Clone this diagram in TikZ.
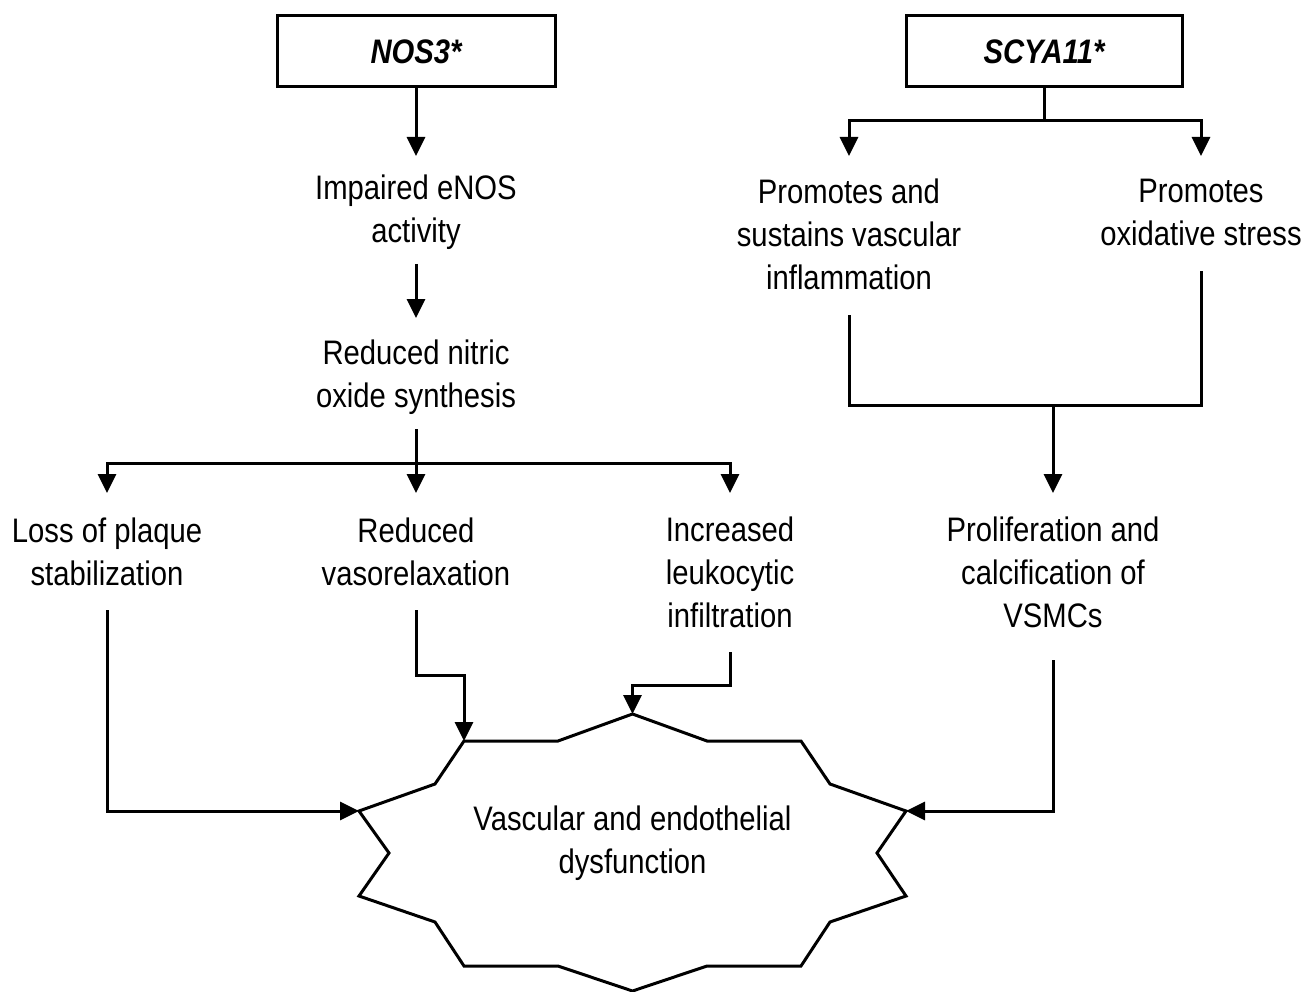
\documentclass[tikz,border=0pt]{standalone}
\usepackage{fontspec}
\setmainfont{Liberation Sans}[FakeStretch=0.86]
\usetikzlibrary{arrows.meta}
\begin{document}
\begin{tikzpicture}[x=1pt,y=-1pt,
  lbl/.style={font=\fontsize{34}{43}\selectfont, align=center, inner sep=0pt, anchor=base},
  gene/.style={draw, line width=3pt, minimum width=278pt, minimum height=71pt, inner sep=0pt,
    font=\fontsize{34}{43}\selectfont\bfseries\itshape},
  conn/.style={line width=3pt},
  arr/.style={conn, -{Triangle[length=19pt,width=18pt]}}]
\useasboundingbox (0,0) rectangle (1303,992);

% gene boxes
\node[gene] (nos3) at (416,51.5) {NOS3*};
\node[gene, minimum width=276pt] (scya) at (1044,51.5) {SCYA11*};

% text nodes (anchor = baseline of last line)
\node[lbl] (enos) at (416,243) {Impaired eNOS\\activity};
\node[lbl] (nosyn) at (416,407) {Reduced nitric\\oxide synthesis};
\node[lbl] (infl) at (849,290) {Promotes and\\sustains vascular\\inflammation};
\node[lbl] (oxid) at (1201,246) {Promotes\\oxidative stress};
\node[lbl] (loss) at (107,585) {Loss of plaque\\stabilization};
\node[lbl] (vaso) at (416,585) {Reduced\\vasorelaxation};
\node[lbl] (leuk) at (730,627) {Increased\\leukocytic\\infiltration};
\node[lbl] (prolif) at (1053,627) {Proliferation and\\calcification of\\VSMCs};
\node[lbl] (vasc) at (632.5,873) {Vascular and endothelial\\dysfunction};

% star outline
\coordinate (starTL) at (464,741);
\coordinate (starT) at (632.5,714);
\coordinate (starR) at (906,811);
\coordinate (starL) at (359,811);
\draw[conn, line join=miter] (starTL) -- (558,741) -- (starT) -- (707,741) -- (801,741)
  -- (830,784) -- (starR) -- (877,853) -- (906,896) -- (830,922) -- (801,966)
  -- (707,966) -- (632.5,991) -- (558,966) -- (464,966) -- (435,922) -- (359,896)
  -- (389,853) -- (starL) -- (435,784) -- cycle;

% connector end points
\coordinate (enos-in) at (416,156);
\coordinate (enos-out) at (416,264);
\coordinate (nosyn-in) at (416,318);
\coordinate (nosyn-out) at (416,429);
\coordinate (nosplit) at (416,463);
\coordinate (loss-in) at (107,493);
\coordinate (vaso-in) at (416,493);
\coordinate (leuk-in) at (730,493);
\coordinate (scsplit) at (1044,121);
\coordinate (infl-in) at (849,156);
\coordinate (oxid-in) at (1201,156);
\coordinate (infl-out) at (849,315);
\coordinate (oxid-out) at (1201,271);
\coordinate (merge) at (1053,405);
\coordinate (prolif-in) at (1053,493);
\coordinate (loss-out) at (107,610);
\coordinate (vaso-out) at (416,610);
\coordinate (leuk-out) at (730,652);
\coordinate (prolif-out) at (1053,660);

% left branch
\draw[arr] (nos3.south) -- (enos-in);
\draw[arr] (enos-out) -- (nosyn-in);
\draw[arr] (nosyn-out) -- (vaso-in);
\draw[arr] (nosplit) -| (loss-in);
\draw[arr] (nosplit) -| (leuk-in);

% right branch
\draw[conn] (scya.south) -- (scsplit);
\draw[arr] (scsplit) -| (infl-in);
\draw[arr] (scsplit) -| (oxid-in);
\draw[conn] (infl-out) |- (merge) -| (oxid-out);
\draw[arr] (merge) -- (prolif-in);

% into the star
\draw[arr] (loss-out) |- (starL);
\draw[arr] (vaso-out) -- ++(0,65) -| (starTL);
\draw[arr] (leuk-out) -- ++(0,33) -| (starT);
\draw[arr] (prolif-out) |- (starR);
\end{tikzpicture}
\end{document}
